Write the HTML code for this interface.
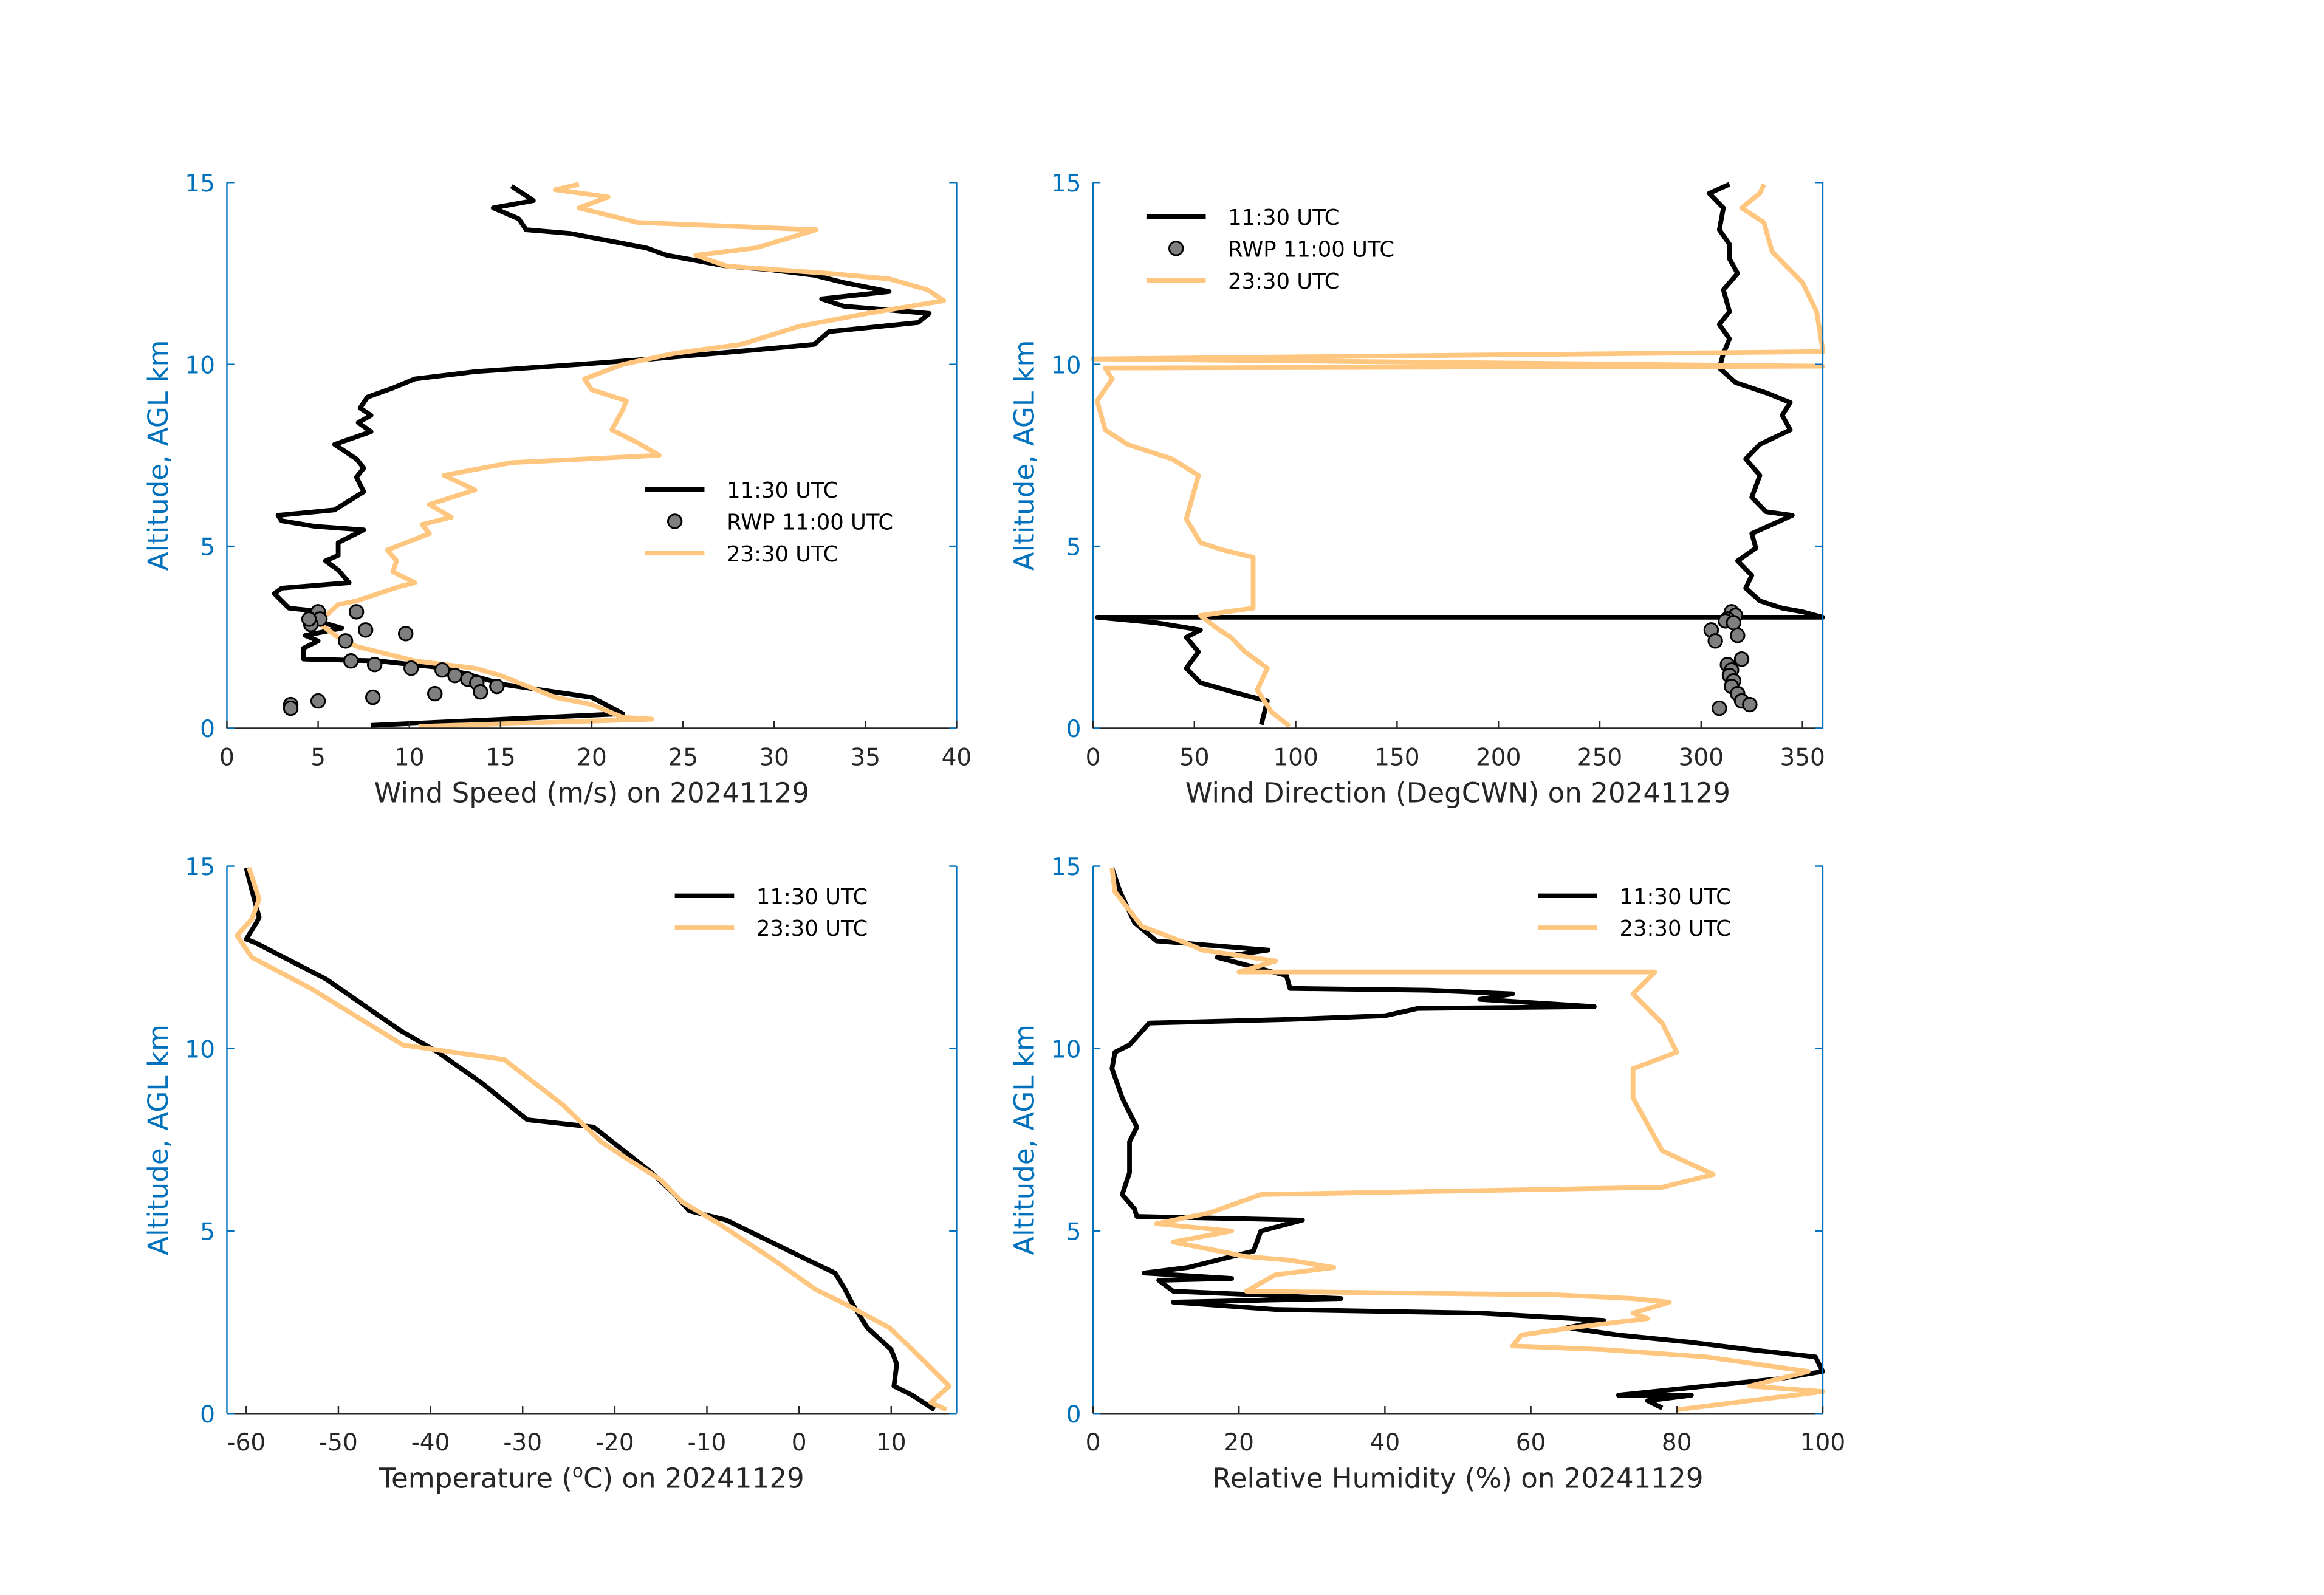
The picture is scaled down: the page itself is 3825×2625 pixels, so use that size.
<!DOCTYPE html>
<html><head><meta charset="utf-8">
<style>
html,body{margin:0;padding:0;background:#fff;}
svg{display:block;font-family:"DejaVu Sans","Liberation Sans",sans-serif;}
</style></head>
<body>
<svg id="fig" width="3825" height="2625" viewBox="0 0 1567 1075.4" preserveAspectRatio="none" xmlns="http://www.w3.org/2000/svg"></svg>
<script>
// ---- Data (value, altitude km) ----
const wsBlackVal=[7.9,21.7,20,15.2,12,8.3,4.2,4.2,5,4.3,6.3,4.6,5.3,3.4,2.6,3.0,6.7,6.1,5.4,6.1,6.1,7.5,4.8,3.0,2.8,5.9,7.5,7.1,7.5,7.1,5.9,7.9,7.2,7.9,7.3,7.7,9.1,10.3,13.6,19.3,23.3,29,32.2,33,37.9,38.5,33.8,32.6,36.3,33.8,32.2,29.8,27.4,24.1,23,18.8,16.4,16,14.6,16.8,15.6];
const wsBlackAlt=[0.08,0.4,0.85,1.2,1.65,1.85,1.9,2.2,2.4,2.55,2.75,3.0,3.2,3.3,3.7,3.85,4.0,4.35,4.6,4.75,5.1,5.45,5.55,5.7,5.85,6.0,6.5,6.9,7.15,7.4,7.8,8.15,8.4,8.6,8.8,9.1,9.35,9.6,9.8,10.0,10.15,10.4,10.55,10.9,11.15,11.4,11.6,11.8,12.0,12.25,12.45,12.6,12.7,13.0,13.2,13.6,13.7,14.0,14.3,14.5,14.9];
const wsOrangeVal=[10.5,23.3,21.7,20,18,15,13.6,10.3,7.1,6.1,5,6.1,7.1,9.5,10.3,9.1,9.3,8.8,11.1,10.7,12.3,11.1,13.6,11.9,15.6,23.7,22.5,21.1,21.7,21.9,20,19.6,21.7,24.5,28.2,31.4,35.1,39.3,38.4,36.3,33,27.4,25.7,29,32.3,22.5,19.3,20.9,18,19.3];
const wsOrangeAlt=[0.05,0.25,0.3,0.65,0.85,1.45,1.65,1.85,2.25,2.5,2.9,3.4,3.5,3.9,4.0,4.3,4.6,4.9,5.35,5.6,5.8,6.15,6.55,6.95,7.3,7.5,7.85,8.2,8.75,9.0,9.3,9.6,10.0,10.3,10.55,11.05,11.4,11.75,12.05,12.35,12.5,12.7,13.0,13.2,13.7,13.9,14.3,14.6,14.8,14.95];
const rwpSpeed=[5,5.1,4.6,4.5,7.1,7.6,6.5,9.8,6.8,8.1,10.1,11.8,12.5,13.2,13.7,14.8,13.9,11.4,8,5,3.5,3.5];
const rwpSpeedAlt=[3.2,3.0,2.85,3.0,3.2,2.7,2.4,2.6,1.85,1.75,1.65,1.6,1.45,1.35,1.25,1.15,1.0,0.95,0.85,0.75,0.65,0.55];

const wdBlackVal=[83,86,72,53,46,52,46,53,31,2,360,350,340,329,322,325,318,327,325,345,332,325,329,322,329,344,340,344,333,317,309,311,314,309,314,311,318,314,314,309,311,304,314];
const wdBlackAlt=[0.1,0.75,0.95,1.25,1.65,2.1,2.5,2.7,2.9,3.05,3.05,3.2,3.3,3.5,3.85,4.2,4.6,4.95,5.35,5.85,5.95,6.35,6.95,7.4,7.8,8.2,8.6,8.95,9.2,9.5,9.9,10.3,10.7,11.1,11.45,12.05,12.5,12.9,13.3,13.7,14.3,14.7,14.95];
const wdOrangeVal=[97,88,81,86,75,68,61,53,79,79,64,53,46,52,39,17,6,2,9.5,6,360,0,360,360,357,350,335,331,320,329,331];
const wdOrangeAlt=[0.05,0.45,1.05,1.65,2.1,2.5,2.75,3.1,3.3,4.7,4.9,5.1,5.75,6.95,7.4,7.8,8.2,9.0,9.6,9.9,9.95,10.15,10.35,10.4,11.45,12.25,13.1,13.9,14.3,14.7,14.95];
const rwpDir=[315,317,313,312,316,305,307,318,320,313,315,314,316,315,318,320,324,309];
const rwpDirAlt=[3.2,3.1,3.0,2.95,2.9,2.7,2.4,2.55,1.9,1.75,1.6,1.45,1.3,1.15,0.95,0.75,0.65,0.55];

const tBlackVal=[14.7,12.3,10.3,10.6,10,7.4,5.8,5,3.9,1,-7.9,-11.9,-13.5,-16,-22.3,-29.5,-34.4,-39.2,-43.3,-51.3,-59,-60,-58.9,-58.6,-59.4,-60];
const tBlackAlt=[0.1,0.5,0.75,1.35,1.75,2.35,3.0,3.4,3.85,4.2,5.3,5.55,6.0,6.6,7.85,8.05,9.05,9.9,10.5,11.9,12.9,13.0,13.45,13.6,14.35,14.95];
const tOrangeVal=[16,14.3,16.3,14.7,12.3,9.8,5,1.8,-3,-8.7,-12.7,-15,-19.1,-21.5,-25.6,-32,-43,-53,-59.4,-61,-59.4,-58.6,-59.7];
const tOrangeAlt=[0.1,0.3,0.75,1.15,1.75,2.35,3.0,3.4,4.25,5.2,5.8,6.4,7.05,7.45,8.45,9.7,10.1,11.65,12.5,13.1,13.55,14.1,14.95];

const rhBlackVal=[78,76,82,72,84,94,100,99,90,82,72,65,70,61.6,53,25,11,34,11,9,19,7,13,22,23,28.7,6,5.7,4,5,5,6,4,2.6,3,5,7.7,27,40,44.5,68.7,53,57.5,46,27,26.5,17,24,8.7,5.7,3.7,2.6];
const rhBlackAlt=[0.15,0.35,0.5,0.5,0.75,0.95,1.15,1.55,1.75,1.95,2.15,2.35,2.55,2.65,2.75,2.85,3.05,3.15,3.35,3.65,3.7,3.85,4.0,4.45,5.0,5.3,5.4,5.6,6.0,6.6,7.45,7.85,8.65,9.45,9.9,10.1,10.7,10.8,10.9,11.1,11.15,11.35,11.5,11.6,11.65,12.0,12.5,12.7,12.95,13.45,14.3,14.95];
const rhOrangeVal=[80,100,90,98,84,70,57.5,58.7,65.6,76,74,79,74,63.6,21,25,33,27,21,11,19,8.7,16,23,78,85,78,74,74,80,78,74,77,20,25,15,12,6.7,3,2.6];
const rhOrangeAlt=[0.1,0.6,0.75,1.15,1.55,1.75,1.85,2.15,2.35,2.6,2.75,3.05,3.15,3.25,3.35,3.8,4.0,4.2,4.3,4.7,5.0,5.2,5.5,6.0,6.2,6.55,7.2,8.65,9.45,9.9,10.7,11.5,12.1,12.1,12.4,12.7,12.95,13.35,14.3,14.95];

const altTicks=[0,5,10,15];
const wsTicks=[0,5,10,15,20,25,30,35,40];
const wdTicks=[0,50,100,150,200,250,300,350];
const tTicks=[-60,-50,-40,-30,-20,-10,0,10];
const rhTicks=[0,20,40,60,80,100];

const NS="http://www.w3.org/2000/svg";
const svg=document.getElementById('fig');
const BLACK="#000000", ORANGE="#fec67e", BLUE="#0072BD", AX="#262626";
function mk(tag,attrs,parent){const e=document.createElementNS(NS,tag);for(const k in attrs)e.setAttribute(k,attrs[k]);(parent||svg).appendChild(e);return e;}

function panel(name,L,R,T,B,xmin,xmax,xticks,xlabel,series,dots,legend){
  const g=mk('g',{});
  
  
  const sx=v=>L+(v-xmin)/(xmax-xmin)*(R-L);
  const sy=a=>B-a/15*(B-T);
  series.forEach(s=>{
    const p=mk('polyline',{points:s.vals.map((v,i)=>sx(v).toFixed(2)+','+sy(s.alts[i]).toFixed(2)).join(' '),fill:'none',stroke:s.color,'stroke-width':3.2,'stroke-linejoin':'round'},g);
    
    
  });
  if(dots){
    dots.vals.forEach((v,i)=>{
      const c=mk('circle',{cx:sx(v),cy:sy(dots.alts[i]),r:4.6,fill:'#7f7f7f',stroke:'#000','stroke-width':1.2},g);
      
      
    });
  }
  const yl=mk('line',{x1:L,y1:T,x2:L,y2:B,stroke:BLUE,'stroke-width':1},g);
  
  
  mk('line',{x1:R,y1:T,x2:R,y2:B,stroke:BLUE,'stroke-width':1},g);
  const xl=mk('line',{x1:L,y1:B,x2:R,y2:B,stroke:AX,'stroke-width':1},g);
  
  
  altTicks.forEach(a=>{
    const y=sy(a);
    mk('line',{x1:L,y1:y,x2:L+5,y2:y,stroke:BLUE},g);
    mk('line',{x1:R,y1:y,x2:R-5,y2:y,stroke:BLUE},g);
    const t=mk('text',{x:L-8,y:y+6,'text-anchor':'end','font-size':16,fill:BLUE},g);
    t.textContent=a;
    
    
  });
  xticks.forEach(v=>{
    const x=sx(v);
    mk('line',{x1:x,y1:B,x2:x,y2:B-5,stroke:AX},g);
    const t=mk('text',{x:x,y:B+25,'text-anchor':'middle','font-size':16,fill:AX},g);
    t.textContent=v;
    
    
  });
  const yt=mk('text',{x:0,y:0,'text-anchor':'middle','font-size':18.5,fill:BLUE,transform:`translate(${L-40},${(T+B)/2}) rotate(-90)`},g);
  yt.textContent='Altitude, AGL km';
  
  
  const xt=mk('text',{x:(L+R)/2,y:B+50,'text-anchor':'middle','font-size':18.5,fill:AX},g);
  xt.innerHTML=xlabel;
  
  
  const lg=mk('g',{},g);
  
  
  legend.items.forEach((it,i)=>{
    const y=legend.y+i*21.5;
    if(it.type==='line') mk('line',{x1:legend.x,y1:y,x2:legend.x+40,y2:y,stroke:it.color,'stroke-width':3},lg);
    else mk('circle',{cx:legend.x+20,cy:y,r:4.6,fill:'#7f7f7f',stroke:'#000','stroke-width':1.2},lg);
    const t=mk('text',{x:legend.x+55,y:y+5.5,'font-size':14.5,fill:'#000'},lg);
    t.textContent=it.label;
    
    
  });
}

const leg3=[{type:'line',color:BLACK,label:'11:30 UTC'},{type:'dot',label:'RWP 11:00 UTC'},{type:'line',color:ORANGE,label:'23:30 UTC'}];
const leg2=[{type:'line',color:BLACK,label:'11:30 UTC'},{type:'line',color:ORANGE,label:'23:30 UTC'}];

panel('wind-speed-panel',153,645,123,491,0,40,wsTicks,'Wind Speed (m/s) on 20241129',
  [{name:'speed-1130-line',vals:wsBlackVal,alts:wsBlackAlt,color:BLACK},{name:'speed-2330-line',vals:wsOrangeVal,alts:wsOrangeAlt,color:ORANGE}],
  {vals:rwpSpeed,alts:rwpSpeedAlt},{x:435,y:330,items:leg3});
panel('wind-direction-panel',737,1229,123,491,0,360,wdTicks,'Wind Direction (DegCWN) on 20241129',
  [{name:'direction-1130-line',vals:wdBlackVal,alts:wdBlackAlt,color:BLACK},{name:'direction-2330-line',vals:wdOrangeVal,alts:wdOrangeAlt,color:ORANGE}],
  {vals:rwpDir,alts:rwpDirAlt},{x:773,y:146,items:leg3});
panel('temperature-panel',153,645,584,953,-62.1,17.1,tTicks,'Temperature (<tspan font-size="12" dy="-7">o</tspan><tspan dy="7">C) on 20241129</tspan>',
  [{name:'temp-1130-line',vals:tBlackVal,alts:tBlackAlt,color:BLACK},{name:'temp-2330-line',vals:tOrangeVal,alts:tOrangeAlt,color:ORANGE}],
  null,{x:455,y:604,items:leg2});
panel('humidity-panel',737,1229,584,953,0,100,rhTicks,'Relative Humidity (%) on 20241129',
  [{name:'rh-1130-line',vals:rhBlackVal,alts:rhBlackAlt,color:BLACK},{name:'rh-2330-line',vals:rhOrangeVal,alts:rhOrangeAlt,color:ORANGE}],
  null,{x:1037,y:604,items:leg2});
</script>
</body></html>
